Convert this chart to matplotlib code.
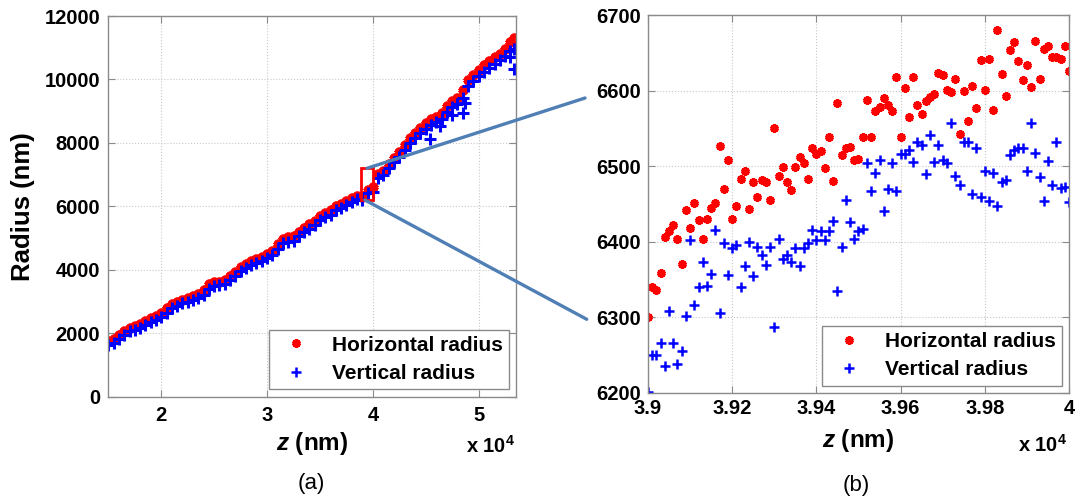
import numpy as np
import matplotlib
matplotlib.use("Agg")
import matplotlib.pyplot as plt
from matplotlib.patches import Rectangle, ConnectionPatch
from matplotlib.ticker import FuncFormatter

plt.rcParams['font.family'] = ['Liberation Sans', 'DejaVu Sans']
plt.rcParams['font.weight'] = 'bold'
plt.rcParams['axes.labelweight'] = 'bold'
plt.rcParams['mathtext.fontset'] = 'custom'
plt.rcParams['mathtext.rm'] = 'Liberation Sans:bold'
plt.rcParams['mathtext.bf'] = 'Liberation Sans:bold'
plt.rcParams['mathtext.it'] = 'Liberation Sans:italic:bold'

# ---- panel (a): whole run, z in nm ----
z_a = [15000, 15500, 16000, 16500, 17000, 17500, 18000, 18500, 19000, 19500,
       20000, 20500, 21000, 21500, 22000, 22500, 23000, 23500, 24000, 24500,
       25000, 25500, 26000, 26500, 27000, 27500, 28000, 28500, 29000, 29500,
       30000, 30500, 31000, 31500, 32000, 32500, 33000, 33500, 34000, 34500,
       35000, 35500, 36000, 36500, 37000, 37500, 38000, 38500, 39000, 39500,
       40000, 40500, 41000, 41500, 42000, 42500, 43000, 43500, 44000, 44500,
       45000, 45500, 46000, 46500, 47000, 47500, 48000, 48500, 49000, 49500,
       50000, 50500, 51000, 51500, 52000, 52500, 53000, 53300]
horiz_a = [1750, 1820, 1950, 2070, 2170, 2240, 2290, 2380, 2470, 2550,
           2640, 2790, 2910, 2990, 3060, 3120, 3170, 3240, 3350, 3540,
           3620, 3630, 3670, 3800, 3940, 4080, 4180, 4270, 4340, 4400,
           4490, 4600, 4800, 4980, 5020, 5050, 5200, 5330, 5430, 5550,
           5700, 5800, 5870, 6020, 6060, 6160, 6250, 6330, 6300, 6510,
           6626, 7020, 7110, 7330, 7540, 7700, 7920, 8150, 8320, 8470,
           8620, 8750, 8830, 8930, 9170, 9320, 9420, 9680, 9970, 10150,
           10300, 10450, 10580, 10700, 10810, 10960, 11180, 11300]
vert_a = [1620, 1700, 1830, 1950, 2060, 2110, 2170, 2250, 2340, 2420,
          2510, 2650, 2790, 2870, 2940, 3000, 3050, 3110, 3210, 3390,
          3480, 3510, 3550, 3680, 3820, 3960, 4060, 4150, 4220, 4270,
          4360, 4460, 4660, 4850, 4890, 4920, 5060, 5190, 5290, 5420,
          5560, 5660, 5740, 5880, 5950, 6040, 6150, 6230, 6201, 6414,
          6453, 6900, 6990, 7200, 7400, 7560, 7780, 7990, 8160, 8310,
          8450, 8580, 8660, 8740, 8990, 9140, 9240, 9430, 9780, 9960,
          10100, 10240, 10370, 10490, 10600, 10740, 10900, 10950]
# scattered vertical-radius points off the main band
z_vert_out = [45400, 46300, 47450, 48550, 48700, 53000, 53300]
vert_out = [8120, 8520, 8890, 8940, 9250, 10720, 10330]

# ---- panel (b): zoom 3.9e4 - 4.0e4 nm, sampled every 10 nm ----
z_b = np.arange(39000, 40001, 10)
horiz_b = [6300, 6340, 6337, 6359, 6406, 6415, 6423, 6404, 6371, 6443,
           6418, 6451, 6429, 6404, 6431, 6445, 6452, 6527, 6470, 6509,
           6431, 6448, 6483, 6494, 6444, 6480, 6460, 6482, 6479, 6456,
           6551, 6488, 6499, 6479, 6469, 6499, 6512, 6505, 6484, 6524,
           6517, 6520, 6498, 6539, 6481, 6584, 6515, 6525, 6526, 6508,
           6510, 6539, 6588, 6539, 6573, 6579, 6591, 6581, 6573, 6618,
           6539, 6604, 6566, 6618, 6581, 6570, 6587, 6592, 6596, 6624,
           6621, 6601, 6598, 6616, 6543, 6600, 6560, 6606, 6578, 6641,
           6601, 6642, 6575, 6681, 6622, 6593, 6654, 6665, 6640, 6615,
           6635, 6605, 6666, 6616, 6656, 6659, 6645, 6645, 6643, 6660,
           6626]
vert_b = [6201, 6250, 6250, 6266, 6236, 6309, 6266, 6238, 6256, 6302,
          6403, 6317, 6340, 6373, 6342, 6358, 6416, 6306, 6398, 6356,
          6392, 6396, 6341, 6368, 6400, 6355, 6394, 6383, 6369, 6394,
          6287, 6404, 6377, 6383, 6374, 6392, 6368, 6392, 6399, 6416,
          6403, 6414, 6403, 6414, 6428, 6335, 6394, 6456, 6427, 6404,
          6414, 6417, 6505, 6467, 6492, 6508, 6441, 6470, 6505, 6467,
          6516, 6516, 6522, 6506, 6533, 6528, 6490, 6542, 6506, 6529,
          6508, 6505, 6557, 6488, 6475, 6532, 6532, 6464, 6525, 6460,
          6494, 6454, 6491, 6447, 6480, 6482, 6515, 6522, 6524, 6525,
          6494, 6557, 6518, 6486, 6454, 6507, 6476, 6532, 6471, 6473,
          6453]

red_style = dict(linestyle='none', marker=(6, 2, 0), color='#ff0000', markersize=6, markeredgewidth=2.4)
blue_style = dict(linestyle='none', marker='+', color='#0000ff', markersize=7, markeredgewidth=1.8)
red_dense = dict(red_style, markersize=7, markeredgewidth=2.8)
blue_dense = dict(blue_style, markersize=8.5, markeredgewidth=2.2)

fig = plt.figure(figsize=(10.75, 4.96), dpi=100)
ax1 = fig.add_axes([0.1008, 0.2002, 0.3792, 0.7675])
ax2 = fig.add_axes([0.6028, 0.2077, 0.3916, 0.7611])


def style_axes(ax):
    for s in ax.spines.values():
        s.set_color('#8a8a8a')
        s.set_linewidth(1.0)
    ax.tick_params(direction='in', top=True, right=True, length=5, width=0.8,
                   color='#8a8a8a', labelcolor='black', labelsize=14.5)
    ax.grid(True, linestyle=':', color='#c8c8c8', linewidth=0.8)
    ax.set_axisbelow(True)
    for lab in ax.get_xticklabels() + ax.get_yticklabels():
        lab.set_fontweight('bold')


def add_legend(ax, handles=None):
    ax.legend(handles=handles, loc='lower right', fontsize=15, frameon=True, fancybox=False,
              edgecolor='#8a8a8a', framealpha=1, borderaxespad=0.35,
              handletextpad=0.7, labelspacing=0.45, borderpad=0.3)


# panel (a)
ax1.plot(z_a, horiz_a, **red_dense)
ax1.plot(z_a, vert_a, **blue_dense)
ax1.plot(z_vert_out, vert_out, **blue_dense)
ax1.set_xlim(15000, 53530)
ax1.set_ylim(0, 12000)
ax1.set_xticks([20000, 30000, 40000, 50000])
ax1.set_yticks(np.arange(0, 12001, 2000))
ax1.xaxis.set_major_formatter(FuncFormatter(lambda v, p: '%g' % (v / 1e4)))
style_axes(ax1)
ax1.tick_params(axis='x', pad=7)
ax1.tick_params(axis='y', pad=6)
ax1.set_ylabel('Radius (nm)', fontsize=18.5, labelpad=7)
ax1.set_xlabel(r'$z$ (nm)', fontsize=17.5, labelpad=3)
ax1.add_patch(Rectangle((38850, 6200), 1150, 1000, fill=False,
                        edgecolor='#ff0000', linewidth=2.0, zorder=5))
# legend handles with the normal marker size
h1, = ax1.plot([], [], label='Horizontal radius', **red_style)
h2, = ax1.plot([], [], label='Vertical radius', **blue_style)
add_legend(ax1, [h1, h2])

# panel (b)
ax2.plot(z_b, horiz_b, label='Horizontal radius', **red_style)
ax2.plot(z_b, vert_b, label='Vertical radius', **blue_style)
ax2.set_xlim(39000, 40000)
ax2.set_ylim(6200, 6700)
ax2.set_xticks(np.arange(39000, 40001, 200))
ax2.set_yticks(np.arange(6200, 6701, 100))
ax2.xaxis.set_major_formatter(FuncFormatter(lambda v, p: '%g' % round(v / 1e4, 2)))
style_axes(ax2)
ax2.tick_params(axis='x', pad=4)
ax2.tick_params(axis='y', pad=5)
ax2.set_xlabel(r'$z$ (nm)', fontsize=17.5, labelpad=7)
add_legend(ax2)

# zoom connector lines
line_kw = dict(color='#4f7fb5', linewidth=2.4, zorder=10)
for xy_a, xy_b in [((39450, 7200), (0.5442, 0.8024)), ((39250, 6200), (0.5458, 0.3563))]:
    con = ConnectionPatch(xyA=xy_a, coordsA=ax1.transData, xyB=xy_b,
                          coordsB=fig.transFigure, **line_kw)
    fig.add_artist(con)

fig.text(515 / 1075, 1 - 446 / 496, r'x 10$^4$', ha='right', va='center', fontsize=14.5)
fig.text(1067 / 1075, 1 - 445 / 496, r'x 10$^4$', ha='right', va='center', fontsize=14.5)
fig.text(311.7 / 1075, 1 - 484 / 496, '(a)', ha='center', va='center', fontsize=16, fontweight='normal')
fig.text(856.7 / 1075, 1 - 486 / 496, '(b)', ha='center', va='center', fontsize=16, fontweight='normal')

fig.savefig('out.png', dpi=100)
